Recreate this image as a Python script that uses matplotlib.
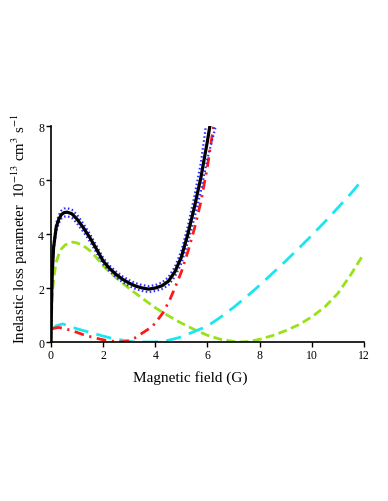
import matplotlib
matplotlib.use("Agg")
import matplotlib.pyplot as plt

plt.rcParams['font.family'] = ['Liberation Serif', 'DejaVu Serif']
plt.rcParams['mathtext.fontset'] = 'stix'

# total loss (black) and its uncertainty band (blue dotted)
total_x = [0, 0.02, 0.05, 0.1, 0.2, 0.3, 0.4, 0.5, 0.62, 0.8, 1.0, 1.25, 1.5, 1.75,
           2.0, 2.25, 2.5, 2.75, 3.0, 3.25, 3.5, 3.75, 4.0, 4.25, 4.5, 4.75,
           5.0, 5.25, 5.5, 5.75, 6.0, 6.1, 6.2]
total_y = [0, 1.5, 2.6, 3.5, 4.25, 4.55, 4.72, 4.79, 4.81, 4.75, 4.55, 4.22, 3.85, 3.43,
           3.0, 2.72, 2.5, 2.32, 2.18, 2.07, 2.0, 1.96, 2.0, 2.08, 2.25, 2.6,
           3.15, 4.0, 5.0, 6.1, 7.45, 8.05, 8.6]

upper_x = [0, 0.02, 0.05, 0.1, 0.2, 0.3, 0.4, 0.5, 0.62, 0.8, 1.0, 1.25, 1.5, 1.75,
           2.0, 2.25, 2.5, 2.75, 3.0, 3.25, 3.5, 3.75, 4.0, 4.25, 4.5, 4.75,
           5.0, 5.25, 5.5, 5.75, 5.9, 6.0]
upper_y = [0, 1.55, 2.7, 3.62, 4.4, 4.7, 4.87, 4.94, 4.96, 4.9, 4.71, 4.37, 3.99, 3.56,
           3.12, 2.83, 2.61, 2.43, 2.29, 2.18, 2.11, 2.07, 2.11, 2.2, 2.4, 2.78,
           3.38, 4.3, 5.4, 6.65, 7.7, 8.5]

lower_x = [0, 0.02, 0.05, 0.1, 0.2, 0.3, 0.4, 0.5, 0.62, 0.8, 1.0, 1.25, 1.5, 1.75,
           2.0, 2.25, 2.5, 2.75, 3.0, 3.25, 3.5, 3.75, 4.0, 4.25, 4.5, 4.75,
           5.0, 5.25, 5.5, 5.75, 6.0, 6.2, 6.32, 6.4]
lower_y = [0, 1.45, 2.5, 3.38, 4.1, 4.4, 4.57, 4.64, 4.66, 4.6, 4.39, 4.07, 3.71, 3.3,
           2.88, 2.61, 2.39, 2.21, 2.07, 1.96, 1.89, 1.85, 1.89, 1.96, 2.1, 2.42,
           2.92, 3.7, 4.6, 5.6, 6.8, 7.55, 8.0, 8.4]

# red dash-dot component
red_x = [0.05, 0.3, 0.75, 1.25, 1.65, 2.1, 2.45, 2.7, 2.95, 3.2, 3.5, 3.85, 4.0, 4.3,
         4.55, 4.75, 5.0, 5.25, 5.5, 5.75, 6.0, 6.25, 6.35]
red_y = [0.5, 0.54, 0.44, 0.27, 0.16, 0.06, 0.02, 0.0, 0.04, 0.14, 0.33, 0.55, 0.7, 1.09,
         1.55, 2.0, 2.6, 3.35, 4.2, 5.2, 6.5, 8.1, 8.7]

# green dashed component
green_x = [0, 0.02, 0.05, 0.1, 0.2, 0.3, 0.4, 0.55, 0.83, 1.0, 1.25, 1.5, 1.75, 2.0,
           2.5, 3.0, 3.5, 4.0, 4.5, 5.0, 5.5, 6.0, 6.5, 7.0, 7.3, 7.6, 8.0, 8.5,
           9.0, 9.5, 10.0, 10.5, 11.0, 11.5, 12.0]
green_y = [0, 1.0, 1.7, 2.35, 2.95, 3.25, 3.45, 3.6, 3.7, 3.67, 3.56, 3.38, 3.12, 2.82,
           2.38, 1.98, 1.62, 1.27, 0.97, 0.7, 0.46, 0.25, 0.1, 0.02, 0.0, 0.02, 0.1, 0.24,
           0.42, 0.64, 0.93, 1.3, 1.8, 2.5, 3.28]

# cyan long-dash component
cyan_x = [0.05, 0.2, 0.45, 0.75, 1.0, 1.4, 2.0, 2.4, 2.9, 3.3, 3.95, 4.4, 4.9, 5.4,
          5.9, 6.2, 6.5, 7.0, 7.5, 8.0, 8.5, 9.0, 9.5, 10.0, 10.5, 11.0, 11.5, 12.0]
cyan_y = [0.47, 0.6, 0.67, 0.57, 0.49, 0.38, 0.22, 0.12, 0.04, 0.0, 0.0, 0.04, 0.16, 0.35,
          0.55, 0.72, 0.92, 1.28, 1.68, 2.1, 2.55, 3.0, 3.47, 3.95, 4.45, 4.97, 5.5, 6.08]

fig = plt.figure(figsize=(3.88, 5.02), dpi=100)
ax = fig.add_axes([0.1314, 0.3167, 0.8066, 0.4303])

ax.plot(green_x, green_y, color='#99e21a', lw=2, dashes=(3.2, 1.6))
ax.plot(cyan_x, cyan_y, color='#1ae6f0', lw=2, dashes=(5.5, 3))
ax.plot(red_x, red_y, color='#ff1a1a', lw=2, dashes=(3.5, 2, 0.8, 2))
ax.plot(upper_x, upper_y, color='#2b2bff', lw=1.6, ls=(0, (0.7, 1.1)))
ax.plot(lower_x, lower_y, color='#2b2bff', lw=1.6, ls=(0, (0.7, 1.1)))
ax.plot(total_x, total_y, color='black', lw=2.3)

ax.set_xlim(0, 12)
ax.set_ylim(0, 8)
ax.set_xticks([0, 2, 4, 6, 8, 10, 12])
ax.set_yticks([0, 2, 4, 6, 8])
ax.spines['top'].set_visible(False)
ax.spines['right'].set_visible(False)
ax.spines['left'].set_linewidth(1.2)
ax.spines['bottom'].set_linewidth(1.2)
ax.tick_params(direction='out', length=3.5, width=1, labelsize=8.5, pad=1.5)

ax.set_xlabel('Magnetic field (G)', fontsize=11)
ax.xaxis.set_label_coords(0.444, -0.13)
ax.set_ylabel(r'Inelastic loss parameter  10$^{-13}$ cm$^{3}$ s$^{-1}$', fontsize=10.6)
ax.yaxis.set_label_coords(-0.067, 0.53)

fig.savefig('out.png', dpi=100)
